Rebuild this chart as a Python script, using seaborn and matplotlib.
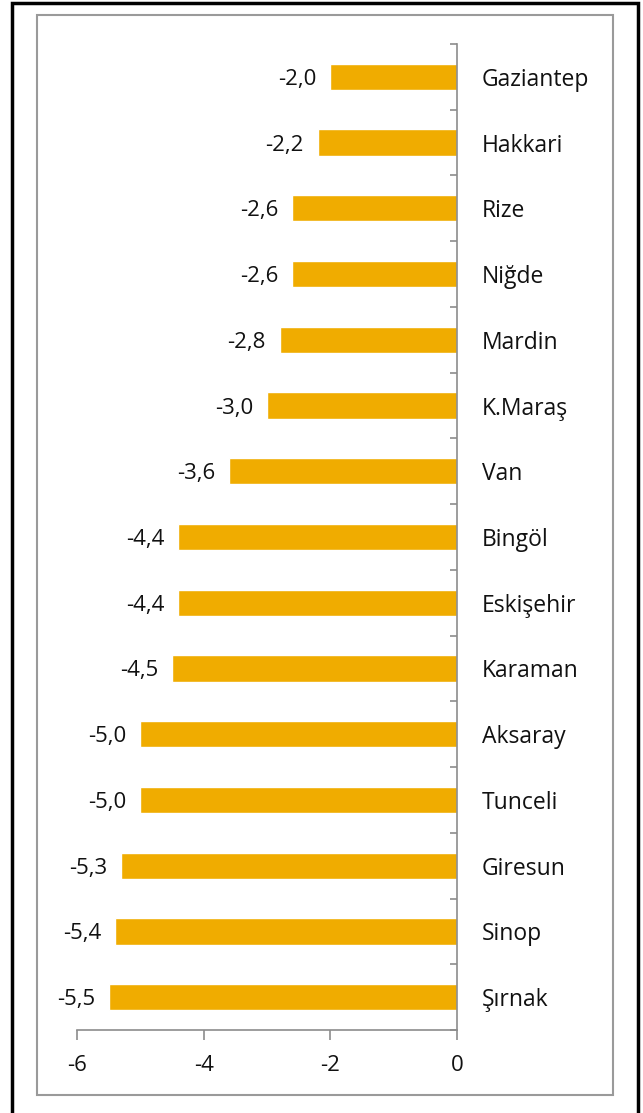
"""
plot.py
Horizontal bar chart of provincial values (negative), recreated with seaborn.
"""

import matplotlib
matplotlib.use('Agg')
import matplotlib.pyplot as plt
from matplotlib.patches import Rectangle
from matplotlib.ticker import FixedLocator
import numpy as np
import pandas as pd
import seaborn as sns

W, H = 643, 1113

provinces = ["Gaziantep", "Hakkari", "Rize", "Niğde", "Mardin", "K.Maraş", "Van",
             "Bingöl", "Eskişehir", "Karaman", "Aksaray", "Tunceli", "Giresun",
             "Sinop", "Şırnak"]
values = [-2.0, -2.2, -2.6, -2.6, -2.8, -3.0, -3.6, -4.4, -4.4, -4.5,
          -5.0, -5.0, -5.3, -5.4, -5.5]
x_ticks = [-6, -4, -2, 0]

BAR_COLOR = '#F0AC00'
AXIS_GRAY = '#8C8C8C'
FS = 16


def main():
    sns.set_style('white')
    plt.rcParams['font.family'] = ['Open Sans', 'DejaVu Sans']

    df = pd.DataFrame({"province": provinces, "value": values})

    fig = plt.figure(figsize=(W / 100, H / 100), dpi=100)
    ax = fig.add_axes([77 / W, 1 - 1030 / H, (457 - 77) / W, (1030 - 44) / H])

    sns.barplot(data=df, x="value", y="province", orient='h',
                color=BAR_COLOR, saturation=1, width=0.4, ax=ax)

    ax.set_xlim(-6, 0)
    ax.set_ylim(len(provinces) - 0.5, -0.5)
    ax.set_xlabel('')
    ax.set_ylabel('')

    # value labels with comma decimal separator
    labels = [f"{v:.1f}".replace('.', ',') for v in values]
    texts = ax.bar_label(ax.containers[0], labels=labels, padding=10,
                         fontsize=FS, color='#111111')
    for t in texts:
        t.set_va('center_baseline')

    for side in ['top', 'left']:
        ax.spines[side].set_visible(False)
    for side in ['right', 'bottom']:
        ax.spines[side].set_color(AXIS_GRAY)
        ax.spines[side].set_linewidth(1.2)

    # category labels sit right of the zero line
    ax.yaxis.tick_right()
    ax.tick_params(axis='y', which='major', length=0, pad=18, labelsize=FS + 0.5,
                   labelcolor='#111111')
    ax.yaxis.set_minor_locator(FixedLocator(np.arange(-0.5, len(provinces), 1)))
    ax.tick_params(axis='y', which='minor', right=True, direction='in',
                   length=5, width=1.2, color=AXIS_GRAY)

    ax.set_xticks(x_ticks)
    ax.set_xticklabels([str(t) for t in x_ticks])
    ax.tick_params(axis='x', bottom=True, direction='out', length=7, width=1.2,
                   color=AXIS_GRAY, pad=11, labelsize=FS, labelcolor='#111111')

    # chart area frame and outer frame
    fig.patches.append(Rectangle((37 / W, 1 - 1095 / H), (613 - 37) / W,
                                 (1095 - 15) / H, transform=fig.transFigure,
                                 fill=False, edgecolor='#9A9A9A', linewidth=1.5))
    fig.patches.append(Rectangle((12 / W, -0.01), (638 - 12) / W, 1 - 3 / H + 0.01,
                                 transform=fig.transFigure, fill=False,
                                 edgecolor='black', linewidth=2.5))

    fig.savefig('out.png', dpi=100)
    plt.close(fig)


if __name__ == "__main__":
    main()
